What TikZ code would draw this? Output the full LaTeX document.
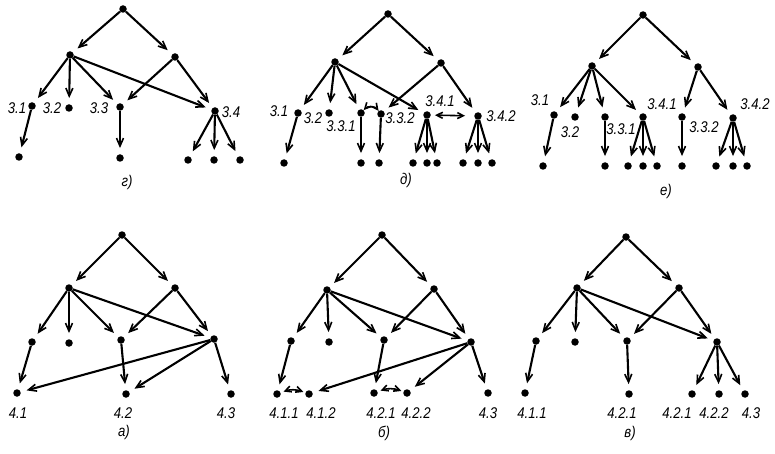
\documentclass[tikz,border=0pt]{standalone}
\usepackage{fontspec}
\setmainfont[FakeStretch=0.85]{Liberation Sans}
\usetikzlibrary{arrows.meta}

\begin{document}
\begin{tikzpicture}[x=1pt,y=-1pt,
  pt/.style={circle,fill,inner sep=0pt,minimum size=7.5pt},
  ar/.style={-{Straight Barb[length=8pt,width=7pt,line width=1.6pt]},line width=2.1pt,shorten >=6pt},
  dar/.style={{Straight Barb[length=6pt,width=6pt]}-{Straight Barb[length=6pt,width=6pt]},line width=1.6pt,shorten >=4pt,shorten <=4pt},
  lab/.style={font=\fontsize{15.5}{16}\selectfont\itshape,inner sep=0pt}]
\useasboundingbox (0,0) rectangle (775,454);
% --- g)
\node[pt](g0) at (123,9){};
\node[pt](gL) at (70,55){};
\node[pt](gR) at (175,57){};
\node[pt](g1) at (32,106){};
\node[pt](g2) at (69,108){};
\node[pt](g3) at (120,107){};
\node[pt](g4) at (215,111){};
\node[pt](g1a) at (19,157){};
\node[pt](g3a) at (120,158){};
\node[pt](g4a) at (188,160){};
\node[pt](g4b) at (214,160){};
\node[pt](g4c) at (240,160){};
\draw[ar](g0)--(gL);
\draw[ar](g0)--(gR);
\draw[ar](gL)--(g1);
\draw[ar](gL)--(g2);
\draw[ar](gL)--(g3);
\draw[ar](gL)--(g4);
\draw[ar](gR)--(g3);
\draw[ar](gR)--(g4);
\draw[ar](g1)--(g1a);
\draw[ar](g3)--(g3a);
\draw[ar](g4)--(g4a);
\draw[ar](g4)--(g4b);
\draw[ar](g4)--(g4c);
\node[lab](gt1) at (17,108){3.1};
\node[lab](gt2) at (52,108){3.2};
\node[lab](gt3) at (99,108){3.3};
\node[lab](gt4) at (231,112){3.4};
\node[lab](gcap) at (127,182){г)};
% --- d)
\node[pt](d0) at (388,14){};
\node[pt](dL) at (335,62){};
\node[pt](dR) at (441,63){};
\node[pt](d1) at (298,113){};
\node[pt](d2) at (329,113){};
\node[pt](d31) at (361,113){};
\node[pt](d32) at (381,114){};
\node[pt](d41) at (427,115){};
\node[pt](d42) at (478,116){};
\node[pt](d1a) at (284,163){};
\node[pt](d31a) at (361,163){};
\node[pt](d32a) at (379,163){};
\node[pt](d41a) at (413,163){};
\node[pt](d41b) at (427,163){};
\node[pt](d41c) at (437,163){};
\node[pt](d42a) at (463,163){};
\node[pt](d42b) at (478,163){};
\node[pt](d42c) at (492,163){};
\draw[ar](d0)--(dL);
\draw[ar](d0)--(dR);
\draw[ar](dL)--(d1);
\draw[ar](dL)--(d2);
\draw[ar](dL)--(d31);
\draw[ar](dL)--(d41);
\draw[ar](dR)--(d32);
\draw[ar](dR)--(d42);
\draw[ar](d1)--(d1a);
\draw[ar](d31)--(d31a);
\draw[ar](d32)--(d32a);
\draw[ar](d41)--(d41a);
\draw[ar](d41)--(d41b);
\draw[ar](d41)--(d41c);
\draw[ar](d42)--(d42a);
\draw[ar](d42)--(d42b);
\draw[ar](d42)--(d42c);
\draw[dar,shorten >=0pt,shorten <=0pt](d31) to[bend left=50] (d32);
\draw[dar,shorten >=9pt](d41)--(d42);
\node[lab](dt1) at (279,111){3.1};
\node[lab](dt2) at (313,118){3.2};
\node[lab](dt31) at (341,126){3.3.1};
\node[lab](dt32) at (400,118){3.3.2};
\node[lab](dt41) at (440,101){3.4.1};
\node[lab](dt42) at (501,116){3.4.2};
\node[lab](dcap) at (406,180){д)};
% --- e)
\node[pt](e0) at (643,15){};
\node[pt](eL) at (592,66){};
\node[pt](eR) at (698,67){};
\node[pt](e1) at (554,115){};
\node[pt](e2) at (575,117){};
\node[pt](e31) at (605,117){};
\node[pt](eX) at (643,117){};
\node[pt](e41) at (682,117){};
\node[pt](e42) at (733,118){};
\node[pt](e1a) at (543,166){};
\node[pt](e31a) at (605,166){};
\node[pt](eXa) at (628,166){};
\node[pt](eXb) at (643,166){};
\node[pt](eXc) at (657,166){};
\node[pt](e41a) at (682,166){};
\node[pt](e42a) at (716,166){};
\node[pt](e42b) at (733,166){};
\node[pt](e42c) at (747,166){};
\draw[ar](e0)--(eL);
\draw[ar](e0)--(eR);
\draw[ar](eL)--(e1);
\draw[ar](eL)--(e2);
\draw[ar](eL)--(e31);
\draw[ar](eL)--(eX);
\draw[ar](eR)--(e41);
\draw[ar](eR)--(e42);
\draw[ar](e1)--(e1a);
\draw[ar](e31)--(e31a);
\draw[ar](eX)--(eXa);
\draw[ar](eX)--(eXb);
\draw[ar](eX)--(eXc);
\draw[ar](e41)--(e41a);
\draw[ar](e42)--(e42a);
\draw[ar](e42)--(e42b);
\draw[ar](e42)--(e42c);
\node[lab](et1) at (540,100){3.1};
\node[lab](et2) at (570,132){3.2};
\node[lab](et31) at (621,129){3.3.1};
\node[lab](et41) at (662,104){3.4.1};
\node[lab](et32) at (704,127){3.3.2};
\node[lab](et42) at (755,104){3.4.2};
\node[lab](ecap) at (666,191){е)};
% --- a)
\node[pt](a0) at (122,235){};
\node[pt](aL) at (69,288){};
\node[pt](aR) at (175,288){};
\node[pt](a1) at (32,342){};
\node[pt](a2) at (69,343){};
\node[pt](a3) at (121,340){};
\node[pt](a4) at (214,339){};
\node[pt](a41) at (17,393){};
\node[pt](a42) at (126,394){};
\node[pt](a43) at (231,394){};
\draw[ar](a0)--(aL);
\draw[ar](a0)--(aR);
\draw[ar](aL)--(a1);
\draw[ar](aL)--(a2);
\draw[ar](aL)--(a3);
\draw[ar](aL)--(a4);
\draw[ar](aR)--(a3);
\draw[ar](aR)--(a4);
\draw[ar](a1)--(a41);
\draw[ar](a3)--(a42);
\draw[ar](a4)--(a41);
\draw[ar](a4)--(a42);
\draw[ar](a4)--(a43);
\node[lab](at1) at (18,413){4.1};
\node[lab](at2) at (123,413){4.2};
\node[lab](at3) at (226,413){4.3};
\node[lab](acap) at (124,432){а)};
% --- b)
\node[pt](b0) at (382,235){};
\node[pt](bL) at (327,290){};
\node[pt](bR) at (434,289){};
\node[pt](b1) at (291,341){};
\node[pt](b2) at (329,342){};
\node[pt](b3) at (384,340){};
\node[pt](b4) at (471,342){};
\node[pt](b11) at (277,394){};
\node[pt](b12) at (309,394){};
\node[pt](b21) at (374,393){};
\node[pt](b22) at (407,393){};
\node[pt](b43) at (488,393){};
\draw[ar](b0)--(bL);
\draw[ar](b0)--(bR);
\draw[ar](bL)--(b1);
\draw[ar](bL)--(b2);
\draw[ar](bL)--(b3);
\draw[ar](bL)--(b4);
\draw[ar](bR)--(b3);
\draw[ar](bR)--(b4);
\draw[ar](b1)--(b11);
\draw[ar](b3)--(b21);
\draw[ar](b4)--(b12);
\draw[ar](b4)--(b22);
\draw[ar](b4)--(b43);
\draw[dar,shorten <=3pt,shorten >=2pt](b11) to[bend left=20] (b12);
\draw[dar,shorten <=3pt,shorten >=2pt](b21) to[bend left=20] (b22);
\node[lab](bt11) at (284,413){4.1.1};
\node[lab](bt12) at (321,413){4.1.2};
\node[lab](bt21) at (381,413){4.2.1};
\node[lab](bt22) at (416,413){4.2.2};
\node[lab](bt3) at (488,413){4.3};
\node[lab](bcap) at (384,433){б)};
% --- v)
\node[pt](c0) at (626,237){};
\node[pt](cL) at (577,288){};
\node[pt](cR) at (679,288){};
\node[pt](c1) at (536,341){};
\node[pt](c2) at (575,342){};
\node[pt](c3) at (627,341){};
\node[pt](c4) at (717,342){};
\node[pt](c11) at (525,393){};
\node[pt](c21) at (629,394){};
\node[pt](c4a) at (692,394){};
\node[pt](c4b) at (719,394){};
\node[pt](c4c) at (745,394){};
\draw[ar](c0)--(cL);
\draw[ar](c0)--(cR);
\draw[ar](cL)--(c1);
\draw[ar](cL)--(c2);
\draw[ar](cL)--(c3);
\draw[ar](cL)--(c4);
\draw[ar](cR)--(c3);
\draw[ar](cR)--(c4);
\draw[ar](c1)--(c11);
\draw[ar](c3)--(c21);
\draw[ar](c4)--(c4a);
\draw[ar](c4)--(c4b);
\draw[ar](c4)--(c4c);
\node[lab](ct11) at (532,413){4.1.1};
\node[lab](ct21) at (622,413){4.2.1};
\node[lab](ct4a) at (677,413){4.2.1};
\node[lab](ct4b) at (714,413){4.2.2};
\node[lab](ct4c) at (751,413){4.3};
\node[lab](ccap) at (630,433){в)};
\end{tikzpicture}
\end{document}
